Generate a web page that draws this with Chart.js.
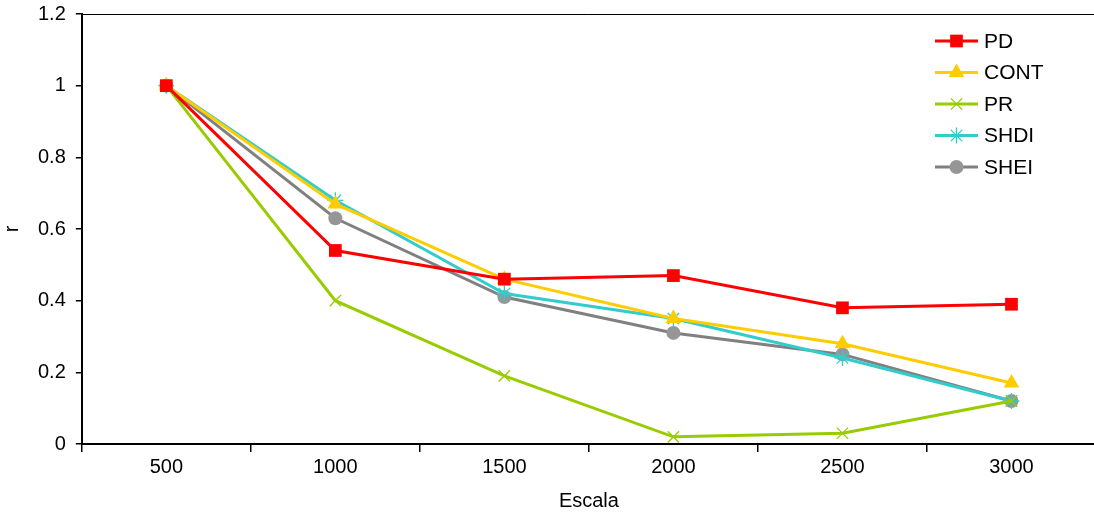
<!DOCTYPE html>
<html>
<head>
<meta charset="utf-8">
<script src="https://cdn.jsdelivr.net/npm/chart.js@4"></script>
<style>
  html, body { margin: 0; padding: 0; background: #fff; overflow: hidden; }
  #wrap { width: 1096px; height: 524px; position: relative; margin-top: -8px; }
</style>
</head>
<body>
<div id="wrap"><canvas id="chart"></canvas></div>
<script>
// categories (scale) and correlation values
const escala = ["500", "1000", "1500", "2000", "2500", "3000"];
const pd   = [1, 0.54, 0.46, 0.47, 0.38, 0.39];
const cont = [1, 0.67, 0.46, 0.35, 0.28, 0.17];
const pr   = [1, 0.40, 0.19, 0.02, 0.03, 0.12];
const shdi = [1, 0.68, 0.42, 0.35, 0.24, 0.12];
const shei = [1, 0.63, 0.41, 0.31, 0.25, 0.12];
const yTicks = [0, 0.2, 0.4, 0.6, 0.8, 1, 1.2];

const FONT = "'Liberation Sans', Arial, sans-serif";

function series(label, data, color, markColor, style, radius) {
  const thin = style === "crossRot" || style === "star";
  return {
    label, data,
    borderColor: color,
    backgroundColor: markColor,
    pointBorderColor: markColor,
    pointBackgroundColor: markColor,
    pointStyle: style,
    pointRadius: radius,
    pointBorderWidth: thin ? 1.3 : 0,
    borderWidth: 3,
    tension: 0,
    clip: false,
  };
}

// legend drawn as line + marker, like the original spreadsheet chart
// (canvas is shifted up 8px, so legend rows are placed 8px lower here)
const lineLegend = {
  id: "lineLegend",
  afterDraw(chart) {
    const ctx = chart.ctx;
    ctx.save();
    chart.data.datasets.forEach((ds, i) => {
      const y = 49 + i * 31.5;
      ctx.strokeStyle = ds.borderColor;
      ctx.lineWidth = 3;
      ctx.beginPath();
      ctx.moveTo(935, y);
      ctx.lineTo(978, y);
      ctx.stroke();
      ctx.fillStyle = ds.pointBackgroundColor;
      ctx.strokeStyle = ds.pointBorderColor;
      ctx.lineWidth = ds.pointBorderWidth || 0.01;
      Chart.helpers.drawPoint(ctx, { pointStyle: ds.pointStyle, radius: ds.pointRadius, rotation: 0, borderWidth: ds.pointBorderWidth }, 956.5, y);
      ctx.fillStyle = "#000";
      ctx.font = "21px " + FONT;
      ctx.textBaseline = "middle";
      ctx.fillText(ds.label, 984, y + 1);
    });
    // thin top border of the plot area
    const a = chart.chartArea;
    ctx.strokeStyle = "#000";
    ctx.lineWidth = 1;
    ctx.beginPath();
    ctx.moveTo(a.left, a.top + 0.5);
    ctx.lineTo(a.right, a.top + 0.5);
    ctx.stroke();
    ctx.restore();
  }
};

new Chart(document.getElementById("chart"), {
  type: "line",
  data: {
    labels: escala,
    datasets: [
      series("PD", pd, "#FF0000", "#FF0000", "rect", 9),
      series("CONT", cont, "#FFCC00", "#FFCC00", "triangle", 9),
      series("PR", pr, "#99CC00", "#99CC00", "crossRot", 8),
      series("SHDI", shdi, "#33CCCC", "#33CCCC", "star", 8),
      series("SHEI", shei, "#808080", "#969696", "circle", 7),
    ],
  },
  options: {
    responsive: true,
    maintainAspectRatio: false,
    animation: false,
    layout: { autoPadding: false, padding: { top: 4, right: 0, left: 0, bottom: 0 } },
    plugins: { legend: { display: false }, tooltip: { enabled: false } },
    scales: {
      x: {
        offset: true,
        grid: { offset: true, drawOnChartArea: false, color: "#000", tickLength: 8, lineWidth: 1.5 },
        border: { color: "#000", width: 2 },
        ticks: { color: "#000", font: { family: FONT, size: 20 }, padding: 3, maxRotation: 0 },
        title: { display: true, text: "Escala", color: "#000", font: { family: FONT, size: 20 }, padding: { top: 7, bottom: 3 } },
      },
      y: {
        min: 0, max: 1.2,
        afterBuildTicks(axis) { axis.ticks = yTicks.map(v => ({ value: v })); },
        grid: { drawOnChartArea: false, color: "#000", tickLength: 6, lineWidth: 1.5 },
        border: { color: "#000", width: 2 },
        ticks: {
          color: "#000", font: { family: FONT, size: 20 }, padding: 10,
          callback: v => String(Math.round(v * 10) / 10),
        },
        title: { display: true, text: "r", color: "#000", font: { family: FONT, size: 20 }, padding: { top: 0, bottom: 4 } },
      },
    },
  },
  plugins: [lineLegend],
});
</script>
</body>
</html>
